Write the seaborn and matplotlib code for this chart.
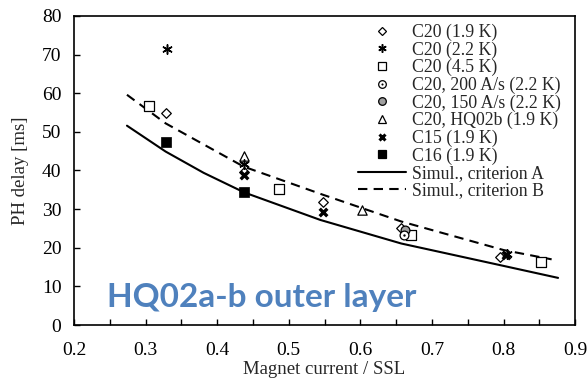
import numpy as np
import pandas as pd
import matplotlib
matplotlib.use("Agg")
import matplotlib.pyplot as plt
from matplotlib.lines import Line2D
from matplotlib.legend_handler import HandlerTuple
import seaborn as sns

# measured points (magnet current / SSL, PH delay in ms)
c20_19k_x = [0.328, 0.437, 0.548, 0.657, 0.795]
c20_19k_y = [54.9, 39.7, 31.8, 25.2, 17.7]
c20_22k_x = [0.330, 0.437, 0.805]
c20_22k_y = [71.5, 41.6, 18.5]
c20_45k_x = [0.305, 0.486, 0.671, 0.852]
c20_45k_y = [56.8, 35.3, 23.4, 16.2]
c20_200_x = [0.661]
c20_200_y = [23.3]
c20_150_x = [0.662]
c20_150_y = [24.6]
hq02b_x = [0.437, 0.602]
hq02b_y = [43.8, 29.8]
c15_x = [0.437, 0.548, 0.803]
c15_y = [38.8, 29.3, 18.0]
c16_x = [0.328, 0.437]
c16_y = [47.3, 34.5]

# simulation curves
sim_a_x = [0.274, 0.328, 0.381, 0.438, 0.544, 0.657, 0.800, 0.876]
sim_a_y = [51.6, 44.9, 39.4, 34.3, 27.2, 21.1, 15.3, 12.2]
sim_b_x = [0.274, 0.328, 0.437, 0.548, 0.657, 0.800, 0.867]
sim_b_y = [59.6, 52.2, 41.0, 33.7, 26.8, 19.4, 17.0]

sns.set_style("ticks")
plt.rcParams['font.family'] = ['Liberation Serif', 'DejaVu Serif']

fig = plt.figure(figsize=(5.87, 3.80), dpi=100)
ax = fig.add_axes([0.126, 0.1447, 0.854, 0.8133])

dash = [4.5, 3]
sim_a = pd.DataFrame({'x': sim_a_x, 'y': sim_a_y})
sim_b = pd.DataFrame({'x': sim_b_x, 'y': sim_b_y})
sns.lineplot(data=sim_a, x='x', y='y', ax=ax, color='black', lw=1.5, sort=False)
sns.lineplot(data=sim_b, x='x', y='y', ax=ax, color='black', lw=1.5, sort=False)
ax.lines[-1].set_dashes(dash)

asterisk = (6, 2, 0)

def pts(xs, ys, **kw):
    sns.scatterplot(x=xs, y=ys, ax=ax, zorder=3, **kw)

pts(c20_19k_x, c20_19k_y, marker='D', s=24, facecolor='white', edgecolor='black', linewidth=0.9)
pts(c20_45k_x, c20_45k_y, marker='s', s=45, facecolor='white', edgecolor='black', linewidth=0.9)
pts(hq02b_x, hq02b_y, marker='^', s=45, facecolor='white', edgecolor='black', linewidth=0.9)
pts(c20_150_x, c20_150_y, marker='o', s=40, facecolor='#a0a0a0', edgecolor='black', linewidth=0.9)
pts(c20_200_x, c20_200_y, marker='o', s=40, facecolor='white', edgecolor='black', linewidth=0.9)
pts(c20_200_x, c20_200_y, marker='o', s=3, color='black', linewidth=0)
pts(c20_22k_x, c20_22k_y, marker=asterisk, s=45, color='black', linewidth=1.1)
pts(c15_x, c15_y, marker='x', s=30, color='black', linewidth=2.4)
pts(c16_x, c16_y, marker='s', s=45, color='black', edgecolor='black', linewidth=0.5)

ax.set_xlim(0.2, 0.9)
ax.set_ylim(0, 80)
ax.set_xticks(np.arange(0.2, 0.91, 0.1))
ax.set_xticks(np.arange(0.25, 0.9, 0.1), minor=True)
ax.set_yticks(np.arange(0, 81, 10))
ax.set_xticklabels([f"{v:.1f}" for v in np.arange(0.2, 0.91, 0.1)])
ax.tick_params(axis='both', which='both', direction='in', length=4, width=1,
               labelsize=14, colors='black')
ax.tick_params(axis='x', which='both', pad=12)
ax.tick_params(axis='y', pad=9)
for sp in ax.spines.values():
    sp.set_visible(True)
    sp.set_linewidth(1.2)
    sp.set_color('black')
ax.set_xlabel('Magnet current / SSL', fontsize=13.5, labelpad=2)
ax.set_ylabel('PH delay [ms]', fontsize=13.5, labelpad=9)

ax.text(0.065, 0.059, 'HQ02a-b outer layer', transform=ax.transAxes,
        fontsize=24, fontweight='bold', color='#4F81BD', family='Lato',
        ha='left', va='baseline')

def mk(marker, ms, mfc='white', mew=0.9, **kw):
    return Line2D([], [], ls='none', marker=marker, markersize=ms,
                  markerfacecolor=mfc, markeredgecolor='black', markeredgewidth=mew,
                  color='black', **kw)

h200 = (mk('o', 5.5), mk('o', 1.5, mfc='black', mew=0))
handles = [
    mk('D', 4),
    Line2D([], [], ls='none', marker=asterisk, markersize=6, color='black', markeredgewidth=1.1),
    mk('s', 5.5),
    h200,
    mk('o', 5.5, mfc='#a0a0a0'),
    mk('^', 5.5),
    Line2D([], [], ls='none', marker='x', markersize=5, color='black', markeredgewidth=2.2),
    mk('s', 6, mfc='black'),
    Line2D([], [], color='black', lw=1.5),
    Line2D([], [], color='black', lw=1.5, dashes=dash),
]
labels = ['C20 (1.9 K)', 'C20 (2.2 K)', 'C20 (4.5 K)', 'C20, 200 A/s (2.2 K)',
          'C20, 150 A/s (2.2 K)', 'C20, HQ02b (1.9 K)', 'C15 (1.9 K)', 'C16 (1.9 K)',
          'Simul., criterion A', 'Simul., criterion B']
ax.legend(handles, labels, loc='upper left', bbox_to_anchor=(0.567, 0.975),
          frameon=False, fontsize=12.8, handlelength=2.7, handletextpad=0.3,
          labelspacing=0.02, borderpad=0, borderaxespad=0,
          handler_map={tuple: HandlerTuple(ndivide=1, pad=0)})

fig.savefig('out.png', dpi=100)
